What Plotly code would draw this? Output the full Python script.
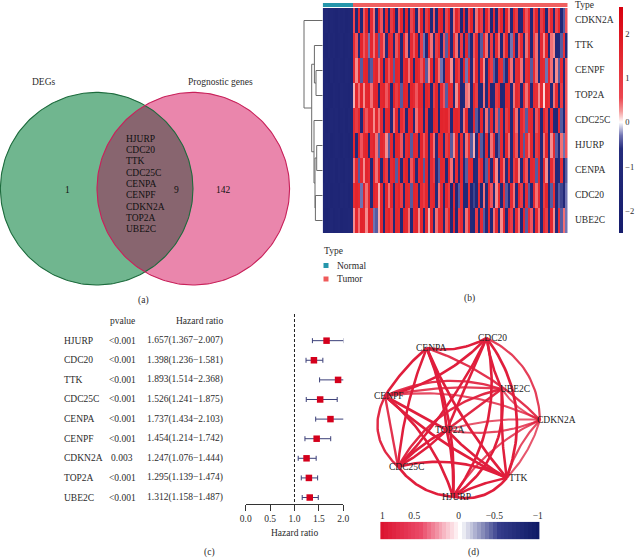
import numpy as np
import plotly.graph_objects as go

W, H = 638, 559
SERIF = "Liberation Serif"
INK = "#2b2b2b"

# ---------- (a) Venn ----------
venn_left_label, venn_right_label = "DEGs", "Prognostic genes"
venn_counts = ["1", "9", "142"]
shared_genes = ["HJURP", "CDC20", "TTK", "CDC25C", "CENPA", "CENPF", "CDKN2A", "TOP2A", "UBE2C"]

# ---------- (b) Heatmap ----------
heat_genes = ["CDKN2A", "TTK", "CENPF", "TOP2A", "CDC25C", "HJURP", "CENPA", "CDC20", "UBE2C"]
sample_types = ["Normal"] * 12 + ["Tumor"] * 86
normal_cdkn2a = [-1.3,-1.2,-1.4,-1.2,-1.3,-1.4,-1.2,-1.3,-1.2,-1.4,-1.3,-1.2]
normal_ttk    = [-1.3,-1.4,-1.2,-1.3,-1.2,-1.4,-1.3,-1.2,-1.4,-1.3,-1.2,-1.3]
normal_cenpf  = [-1.2,-1.3,-1.4,-1.2,-1.4,-1.3,-1.2,-1.3,-1.4,-1.2,-1.3,-1.4]
normal_top2a  = [-1.3,-1.2,-1.3,-1.4,-1.2,-1.3,-1.4,-1.2,-1.3,-1.3,-1.4,-1.2]
normal_cdc25c = [-1.2,-1.4,-1.3,-1.2,-1.3,-1.2,-1.4,-1.3,-1.2,-1.4,-1.2,-1.3]
normal_hjurp  = [-1.3,-1.3,-1.2,-1.4,-1.3,-1.2,-1.3,-1.4,-1.2,-1.3,-1.4,-1.2]
normal_cenpa  = [-1.4,-1.2,-1.3,-1.3,-1.2,-1.4,-1.2,-1.3,-1.4,-1.2,-1.3,-1.3]
normal_cdc20  = [-1.2,-1.3,-1.2,-1.4,-1.3,-1.3,-1.4,-1.2,-1.3,-1.2,-1.4,-1.3]
normal_ube2c  = [-1.3,-1.4,-1.3,-1.2,-1.4,-1.3,-1.2,-1.4,-1.3,-1.3,-1.2,-1.4]

tumor_cdkn2a = [0.6,-1.2,1.5,-1.1,0.5,1.6,-1.2,1.4,0.4,-1.1,1.6,0.5,-1.2,1.5,-1.1,0.9,1.6,-1.2,0.5,1.5,-1.1,1.6,-1.2,0.6,1.4,-1.1,0.4,1.5,-1.2,0.9,1.6,-1.1,0.5,-1.2,1.4,1.6,-1.1,0.6,1.5,-1.2,0.4,1.6,0.9,-1.2,1.5,-1.1,0.6,1.6,-1.2,0.4,1.5,0.9,-1.1,1.6,0.5,-1.2,1.4,-1.1,0.6,1.5,-1.2,1.6,0.4,-1.1,1.5,0.9,-1.2,-1.1,1.6,0.5,1.4,-1.2,0.6,1.5,-1.1,0.9,1.6,-1.2,0.5,1.4,-1.1,0.6,1.5,-1.2,-0.4,0.5]
tumor_ttk    = [1.4,0.5,-1.1,1.6,0.5,1.3,-0.3,1.5,0.4,1.6,-0.4,1.2,0.4,-1.0,1.6,1.4,-1.1,0.5,1.5,-1.0,1.6,0.4,-1.2,1.4,0.5,1.6,-1.1,0.9,-0.3,-1.2,1.5,0.4,-1.1,0.9,1.4,-1.2,0.5,-0.4,1.5,-1.1,1.3,0.4,-1.2,0.9,-1.1,1.5,-0.4,-1.2,0.5,1.4,-1.1,-0.4,1.5,0.4,-1.2,0.9,-1.1,1.4,0.4,-1.2,0.5,1.5,-1.1,-0.3,1.3,-1.2,0.5,1.4,-1.1,0.4,1.5,-1.2,0.9,0.4,-1.1,1.4,0.3,1.5,-1.1,0.4,0.3,-1.2,-1.1,-0.4,1.2,-1.2]
tumor_cenpf  = [1.5,0.3,1.6,-0.4,1.5,1.6,-0.5,-0.4,1.4,1.6,0.4,1.5,-1.0,1.6,0.5,1.4,-0.4,1.6,1.5,-1.1,1.4,1.6,0.4,1.5,-1.0,1.6,1.4,0.5,1.6,-0.4,0.3,1.5,-1.1,1.6,0.4,-0.3,-1.0,1.5,1.4,0.3,-1.1,1.5,0.9,-1.0,1.6,-0.3,1.4,-1.1,0.4,1.5,-1.0,1.4,0.3,-1.1,1.5,0.9,-0.4,-1.1,1.5,1.3,-0.4,-1.0,1.5,0.4,-1.1,1.4,1.5,0.4,-1.0,1.3,1.5,-0.4,1.4,0.4,-1.0,1.5,1.4,-0.3,1.5,0.4,-1.1,0.3,-0.4,1.4,-1.0,0.5]
tumor_top2a  = [0.2,1.5,0.4,1.6,0.3,1.5,1.6,0.4,1.5,1.6,-1.0,1.5,1.6,0.5,1.4,-1.1,1.6,0.9,1.5,-0.4,1.6,1.5,-1.1,1.6,1.4,0.5,1.6,1.5,-1.0,1.6,1.4,-1.1,0.9,1.5,-1.0,1.4,0.5,-0.4,1.5,1.4,-1.1,0.3,1.4,-1.2,-1.0,0.4,0.3,-1.1,1.4,0.9,-1.2,-1.1,0.4,-1.0,1.4,-1.2,-1.1,0.9,1.3,-1.2,-1.1,1.5,1.4,-1.0,0.4,1.5,1.3,-1.1,1.4,0.4,1.5,-1.0,1.4,1.3,0.3,1.4,0.1,1.5,1.3,-1.0,0.4,1.4,-1.1,0.9,-1.2,0.5]
tumor_cdc25c = [1.4,0.9,1.5,-1.1,1.3,0.5,1.5,1.4,0.3,1.5,0.4,1.4,-1.0,1.5,1.6,-1.1,0.4,1.5,-1.0,1.4,0.9,-1.2,1.5,1.6,-1.1,0.4,1.5,1.4,-1.0,1.3,-1.2,-1.1,1.5,1.4,-1.2,1.6,1.5,1.6,0.9,-1.1,1.5,1.6,1.4,-1.0,0.4,1.5,-1.2,-1.1,1.4,-0.4,-1.0,1.5,-1.2,0.4,-0.5,1.4,-1.1,0.5,-0.4,1.4,-1.2,0.9,1.5,-1.0,1.4,0.4,-1.1,1.5,0.9,-0.4,1.4,1.5,-1.2,0.5,1.4,-1.1,1.5,0.9,-1.2,1.4,-1.1,-1.2,1.4,-0.4,-1.2,0.5]
tumor_hjurp  = [1.5,-1.0,1.6,0.5,1.5,1.6,-1.1,1.4,1.6,0.4,-0.4,1.5,1.3,0.3,-0.4,1.5,-1.0,1.6,1.5,0.5,-1.1,1.4,1.6,-0.4,1.5,1.4,-1.0,1.6,0.5,1.4,-1.1,1.5,0.4,-1.0,1.4,1.5,-1.1,0.9,1.4,-0.4,0.3,1.5,-1.1,1.4,-1.0,0.4,1.3,-0.4,0.2,-1.1,1.4,-0.4,-1.0,1.5,-1.1,0.4,1.3,-1.0,-0.4,1.4,-1.1,1.5,0.4,-1.0,1.4,0.5,-1.1,1.5,-0.4,1.3,0.4,1.5,-1.0,0.9,1.4,-1.1,0.4,1.5,-1.0,0.3,1.4,-0.4,-1.1,0.4,-0.3,0.5]
tumor_cenpa  = [0.4,1.5,-0.4,1.4,0.3,1.6,1.4,-1.1,1.5,0.4,1.6,-1.0,1.5,0.9,-1.1,1.4,1.6,-0.4,1.5,-1.0,1.4,1.6,-1.1,0.5,1.5,-1.0,1.4,1.6,-0.4,1.5,-1.1,1.4,0.9,-1.0,-0.4,1.5,1.4,-1.1,1.5,0.4,-1.2,1.4,-1.0,1.5,-1.1,-0.4,1.4,1.5,-1.2,-1.0,0.9,1.4,-1.1,-0.4,1.5,-1.0,1.4,0.3,-1.1,1.5,0.4,-1.0,1.4,-1.1,0.9,1.5,0.3,-1.0,1.4,0.5,-1.1,1.5,1.4,-0.4,1.5,-1.0,1.4,0.3,-1.1,1.4,0.5,-1.2,-1.0,1.3,-1.2,-0.4]
tumor_cdc20  = [1.3,1.6,1.4,-0.3,1.6,0.4,1.5,-1.0,1.6,1.4,0.2,1.5,-1.1,1.6,0.4,1.5,-1.0,1.4,1.6,0.9,-1.1,1.5,1.4,-0.4,1.6,1.5,-1.0,1.4,0.9,1.5,-1.1,1.4,1.5,-1.0,0.4,1.4,-1.1,1.5,0.9,-1.2,1.4,-1.1,-0.4,1.4,-1.2,-1.1,1.3,-1.2,-0.5,-1.1,1.4,-1.2,0.4,-1.1,1.4,0.5,-1.0,0.3,1.4,-1.1,1.3,-0.4,-1.0,1.4,0.4,-1.1,1.5,0.9,-1.0,1.4,-0.4,-1.1,1.5,0.4,1.4,-1.0,0.9,1.5,-1.1,-0.4,1.3,-1.2,-0.4,-0.5,-1.1,-0.3]
tumor_ube2c  = [0.3,1.5,0.4,1.6,1.5,0.3,1.6,1.4,-0.3,-0.4,0.2,1.5,-1.1,1.4,1.6,0.9,-1.0,1.5,1.4,-1.1,1.6,1.5,0.4,-1.0,1.4,1.6,0.3,1.5,-1.1,1.4,0.2,1.5,-1.0,0.4,1.4,1.5,-1.1,0.5,1.4,-1.0,1.5,-1.2,0.9,1.4,-1.1,0.4,1.4,-1.0,-1.2,0.9,-1.1,1.4,-0.4,-1.0,1.5,-1.1,0.4,1.4,-1.0,0.3,1.5,-1.1,1.4,0.9,-1.0,1.4,0.4,-1.1,1.5,-0.4,1.4,0.5,-1.0,1.5,0.4,-1.1,1.4,0.9,-1.0,1.5,0.3,-1.1,1.3,-0.4,0.4,-0.3]
heat_rows = [normal_cdkn2a + tumor_cdkn2a, normal_ttk + tumor_ttk, normal_cenpf + tumor_cenpf,
             normal_top2a + tumor_top2a, normal_cdc25c + tumor_cdc25c, normal_hjurp + tumor_hjurp,
             normal_cenpa + tumor_cenpa, normal_cdc20 + tumor_cdc20, normal_ube2c + tumor_ube2c]

# hierarchical merges on heat_genes: (lower id, upper id, height); ids >= 9 are earlier merges
dendro_merges = [(2, 3, 6.7), (5, 6, 6), (7, 8, 7.3), (1, 9, 8.3), (10, 11, 7.7),
                 (4, 13, 8.7), (12, 14, 11), (0, 15, 18.7)]

# ---------- (c) Forest ----------
forest_genes = ["HJURP", "CDC20", "TTK", "CDC25C", "CENPA", "CENPF", "CDKN2A", "TOP2A", "UBE2C"]
forest_p = ["<0.001", "<0.001", "<0.001", "<0.001", "<0.001", "<0.001", "0.003", "<0.001", "<0.001"]
forest_hr = [1.657, 1.398, 1.893, 1.526, 1.737, 1.454, 1.247, 1.295, 1.312]
forest_lo = [1.367, 1.236, 1.514, 1.241, 1.434, 1.214, 1.076, 1.139, 1.158]
forest_hi = [2.007, 1.581, 2.368, 1.875, 2.103, 1.742, 1.444, 1.474, 1.487]

# ---------- (d) Network ----------
node_names = ["CDC20", "CENPA", "CENPF", "UBE2C", "CDKN2A", "TOP2A", "CDC25C", "TTK", "HJURP"]
node_px = [486.7, 426.7, 385.0, 501.7, 540.0, 446.7, 398.0, 506.7, 453.0]
node_py = [338.0, 348.0, 396.0, 389.0, 420.0, 430.0, 466.7, 478.0, 496.7]
edge_from = ["CENPA","CENPA","CENPA","CENPA","CENPA","CENPA","CENPA","CDC20","CDC20","CDC20","CDC20","CDC20","CDC20","CDC20",
             "UBE2C","UBE2C","UBE2C","UBE2C","UBE2C","UBE2C","CENPF","CENPF","CENPF","CENPF","CENPF","CENPF",
             "TOP2A","TOP2A","TOP2A","TOP2A","TOP2A","CDKN2A","CDKN2A","CDC25C","CDC25C","HJURP","HJURP","CDKN2A","CENPF","CDC25C"]
edge_to   = ["CDC20","CDKN2A","TTK","TOP2A","HJURP","CENPF","CDC25C","CDKN2A","TTK","TOP2A","CENPF","HJURP","CDC25C","UBE2C",
             "CENPF","CDKN2A","TTK","HJURP","CDC25C","TOP2A","CDKN2A","TOP2A","TTK","HJURP","CDC25C","CDC25C",
             "CDKN2A","CDKN2A","TTK","HJURP","CDC25C","TTK","TTK","HJURP","TTK","TTK","TTK","HJURP","UBE2C","TOP2A"]
edge_corr = [0.85,0.7,0.9,0.85,0.85,0.85,0.8,0.65,0.9,0.8,0.85,0.85,0.8,0.8,
             0.7,0.55,0.8,0.85,0.75,0.75,0.6,0.85,0.9,0.85,0.75,0.7,
             0.55,0.6,0.85,0.9,0.85,0.6,0.55,0.85,0.85,0.9,0.8,0.6,0.65,0.8]
edge_bend = [0.12,-0.08,0.05,-0.05,-0.08,0.05,0.05,-0.2,-0.18,0.0,-0.1,-0.15,-0.05,0.05,
             0.13,0.1,0.03,-0.2,0.15,0.0,-0.1,0.0,0.05,-0.1,0.25,0.0,
             -0.06,0.1,0.05,-0.05,0.05,0.08,-0.08,0.15,-0.12,0.2,-0.05,0.1,-0.05,0.05]

ramp_levels = [1.0,0.95,0.9,0.85,0.8,0.75,0.7,0.65,0.6,0.55,0.5,0.45,0.4,0.35,0.3,0.25,0.2,0.15,0.1,0.05,0.0,
               -0.05,-0.1,-0.15,-0.2,-0.25,-0.3,-0.35,-0.4,-0.45,-0.5,-0.55,-0.6,-0.65,-0.7,-0.75,-0.8,-0.85,-0.9,-0.95,-1.0]
ramp_tick_labels = ["1", "0.5", "0", "\u22120.5", "\u22121"]


def xd(a, b):
    return [a / W, b / W]


def yd(a, b):
    return [1 - b / H, 1 - a / H]


fig = go.Figure()
P = dict(xaxis="x", yaxis="y")

# --- Venn, in page pixels
VY, VR, VL, VRX = 188.7, 96.3, 96.7, 193.3
t = np.linspace(0, 2 * np.pi, 240)
for cx, fill, line in [(VL, "#70b68f", "#1d6b3d"), (VRX, "#ea86ac", "#c8215a")]:
    fig.add_trace(go.Scatter(x=cx + VR * np.cos(t), y=VY + VR * np.sin(t), mode="none", fill="toself",
                             fillcolor=fill, hoverinfo="skip", **P))
half = np.arccos((VRX - VL) / 2 / VR)
a1 = np.linspace(-half, half, 80)
a2 = np.linspace(np.pi - half, np.pi + half, 80)
fig.add_trace(go.Scatter(x=np.r_[VL + VR * np.cos(a1), VRX + VR * np.cos(a2)],
                         y=np.r_[VY + VR * np.sin(a1), VY + VR * np.sin(a2)],
                         mode="none", fill="toself", fillcolor="#88656f", hoverinfo="skip", **P))
for cx, line in [(VL, "#1d6b3d"), (VRX, "#c8215a")]:
    fig.add_trace(go.Scatter(x=cx + VR * np.cos(t), y=VY + VR * np.sin(t), mode="lines",
                             line=dict(color=line, width=1.1), hoverinfo="skip", **P))

# --- Network edges, in page pixels
pos = {n: (x, y) for n, x, y in zip(node_names, node_px, node_py)}
s = np.linspace(0, 1, 40)
for a, b, c, bend in zip(edge_from, edge_to, edge_corr, edge_bend):
    (x0, y0), (x1, y1) = pos[a], pos[b]
    mx, my = (x0 + x1) / 2 - bend * (y1 - y0) * 1.5, (y0 + y1) / 2 + bend * (x1 - x0) * 1.5
    bx = (1 - s) ** 2 * x0 + 2 * s * (1 - s) * mx + s ** 2 * x1
    by = (1 - s) ** 2 * y0 + 2 * s * (1 - s) * my + s ** 2 * y1
    fig.add_trace(go.Scatter(x=bx, y=by, mode="lines", hoverinfo="skip",
                             line=dict(color="rgb(224,30,60)", width=1.0 + 1.9 * c),
                             opacity=min(1, 0.2 + c), **P))

# --- Heatmap legend markers
fig.add_trace(go.Scatter(x=[326, 326], y=[265.5, 279], mode="markers", hoverinfo="skip",
                         marker=dict(symbol="square", size=5, color=["#2596ab", "#ef5a5a"]), **P))

# --- Heatmap
CS = [[0, "#151c6c"], [(1.9) / 5.1, "#252c7c"], [2.2 / 5.1, "#7073b2"], [2.5 / 5.1, "#ffffff"],
      [2.75 / 5.1, "#f59a9a"], [3.05 / 5.1, "#ec4650"], [4.1 / 5.1, "#e2242c"], [1, "#d8000f"]]
fig.add_trace(go.Heatmap(z=heat_rows, xaxis="x2", yaxis="y2", zmin=-2.5, zmax=2.6, colorscale=CS, hoverinfo="skip",
                         colorbar=dict(x=619 / W, xanchor="left", thickness=4, len=226 / H, y=1 - 120 / H, yanchor="middle",
                                       outlinewidth=0, xpad=0, ypad=0, tickvals=[-2, -1, 0, 1, 2], ticks="",
                                       tickfont=dict(family=SERIF, size=8.5, color=INK))))
type_codes = [[0 if v == "Normal" else 1 for v in sample_types]]
fig.add_trace(go.Heatmap(z=type_codes, xaxis="x3", yaxis="y3", zmin=0, zmax=1, showscale=False, hoverinfo="skip",
                         colorscale=[[0, "#2596ab"], [1, "#ef6060"]]))

# --- Dendrogram
centers = {i: (float(i), 0.0) for i in range(9)}
dx, dy = [], []
for k, (l, r, h) in enumerate(dendro_merges):
    (yl, hl), (yr, hr) = centers[l], centers[r]
    dx += [hl, h, h, hr, None]
    dy += [yl, yl, yr, yr, None]
    centers[9 + k] = ((yl + yr) / 2, h)
fig.add_trace(go.Scatter(x=dx, y=dy, xaxis="x4", yaxis="y4", mode="lines", hoverinfo="skip",
                         line=dict(color="#6a6a6a", width=1)))

# --- Forest
rows = list(range(len(forest_genes)))
fig.add_trace(go.Scatter(x=[1, 1], y=[-1.36, 8.33], xaxis="x5", yaxis="y5", mode="lines", hoverinfo="skip",
                         line=dict(color="#222", width=1, dash="3px,2px"), cliponaxis=False))
fig.add_trace(go.Scatter(x=forest_hr, y=rows, xaxis="x5", yaxis="y5", mode="markers", cliponaxis=False, hoverinfo="skip",
                         marker=dict(symbol="square", size=6.5, color="#d4001c"),
                         error_x=dict(type="data", symmetric=False,
                                      array=[h - m for h, m in zip(forest_hi, forest_hr)],
                                      arrayminus=[m - l for m, l in zip(forest_hr, forest_lo)],
                                      color="#3b3f78", thickness=1, width=2.5)))

# --- Ramp
fig.add_trace(go.Heatmap(z=[ramp_levels], x=ramp_levels, xaxis="x6", yaxis="y6", zmin=-1, zmax=1, showscale=False, hoverinfo="skip",
                         colorscale=[[0, "#0f1a66"], [0.25, "#353d8b"], [0.5, "#ffffff"], [0.75, "#ea4a68"], [1, "#dc1430"]]))

off = dict(visible=False, fixedrange=True)
fig.update_layout(
    width=W, height=H, margin=dict(l=0, r=0, t=0, b=0, autoexpand=False), paper_bgcolor="white", plot_bgcolor="rgba(0,0,0,0)",
    showlegend=False,
    xaxis=dict(domain=[0, 1], range=[0, W], **off),
    yaxis=dict(domain=[0, 1], range=[H, 0], **off),
    xaxis2=dict(domain=xd(322.7, 567.7), anchor="y2", **off),
    yaxis2=dict(domain=yd(8, 233), anchor="x2", autorange="reversed", **off),
    xaxis3=dict(domain=xd(322.7, 567.7), anchor="y3", **off),
    yaxis3=dict(domain=yd(3, 7), anchor="x3", **off),
    xaxis4=dict(domain=xd(302.7, 322.7), anchor="y4", range=[20, 0], **off),
    yaxis4=dict(domain=yd(8, 233), anchor="x4", range=[8.5, -0.5], **off),
    xaxis5=dict(domain=xd(245.7, 343.3), anchor="y5", range=[0, 2], tickvals=[0, 0.5, 1, 1.5, 2],
                ticktext=["0.0", "0.5", "1.0", "1.5", "2.0"], ticks="outside", ticklen=6, tickwidth=1, tickcolor="#333",
                showline=True, linecolor="#333", linewidth=1, showgrid=False, zeroline=False, fixedrange=True,
                tickfont=dict(family=SERIF, size=9.5, color=INK)),
    yaxis5=dict(domain=yd(314, 504), anchor="x5", range=[8.33, -1.36], **off),
    xaxis6=dict(domain=xd(380, 541.7), anchor="y6", range=[1.03, -1.05], side="top", tickvals=[1, 0.59, 0.02, -0.44, -1],
                ticktext=ramp_tick_labels, ticks="", showgrid=False, zeroline=False, showline=False, fixedrange=True,
                tickfont=dict(family=SERIF, size=9.5, color=INK)),
    yaxis6=dict(domain=yd(521.7, 539.3), anchor="x6", **off),
)


def note(x, y, text, anchor="center", size=9.5, xref="x", yref="y", color=INK):
    fig.add_annotation(x=x, y=y, text=text, xref=xref, yref=yref, showarrow=False, xanchor=anchor, yanchor="middle",
                       font=dict(family=SERIF, size=size, color=color))


# Venn text
note(44.3, 81.7, venn_left_label)
note(220.7, 81.7, venn_right_label)
for x, c in zip([67.7, 176, 223], venn_counts):
    note(x, 190, c, color="#111")
for i, g in enumerate(shared_genes):
    note(124, 138.7 + 11.33 * i, g, anchor="left", color="#111")
note(143.3, 300, "(a)")

# Heatmap text
note(573, 4.5, "Type", anchor="left")
for i, g in enumerate(heat_genes):
    note(573, 19.5 + 25 * i, g, anchor="left")
note(322, 250.5, "Type", anchor="left")
note(335, 265.5, "Normal", anchor="left")
note(335, 279, "Tumor", anchor="left")
note(469, 298, "(b)")

# Forest text
note(122, 321, "pvalue")
note(225, 321, "Hazard ratio", anchor="right")
for i, (g, p, h, l, u) in enumerate(zip(forest_genes, forest_p, forest_hr, forest_lo, forest_hi)):
    note(61.7, i, g, anchor="left", yref="y5")
    note(122, i, p, yref="y5")
    note(225, i, f"{h:.3f}({l:.3f}\u2212{u:.3f})", anchor="right", yref="y5")
note(294.5, 533, "Hazard ratio")
note(209.7, 552, "(c)")

# Network labels
for n, x, y in zip(node_names, node_px, node_py):
    note(x + {"CDC20": 6, "CENPA": 4, "CENPF": 4, "CDKN2A": 16, "UBE2C": 13, "TOP2A": 3, "CDC25C": 8, "TTK": 12, "HJURP": 3}[n],
         y, n, color="#222", size=9.5)
note(473.3, 552, "(d)")

fig.write_html("out.html", post_script="document.body.style.margin='0';", config={"displayModeBar": False})
